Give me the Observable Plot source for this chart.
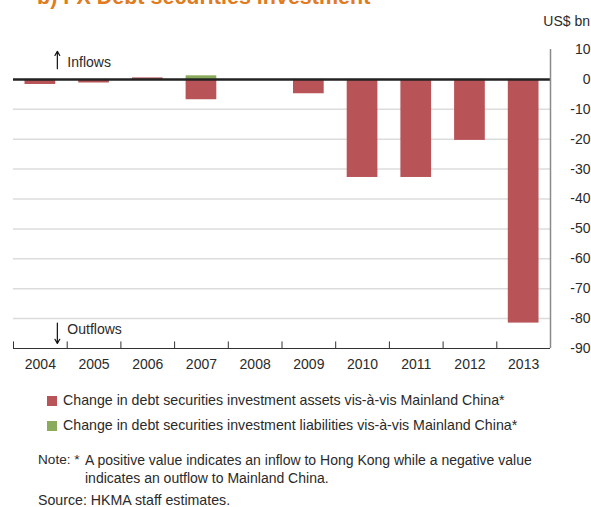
<!DOCTYPE html>
<html>
<head>
<meta charset="utf-8">
<script src="https://cdn.jsdelivr.net/npm/d3@7"></script>
<script src="https://cdn.jsdelivr.net/npm/@observablehq/plot@0.6"></script>
<style>
  body { margin: 0; background: #fff; font-family: "Liberation Sans", Arial, sans-serif; color: #2a2a2a; }
  #wrap { position: relative; width: 591px; height: 507px; overflow: hidden; }
  #title { position: absolute; left: 37px; top: -14px; font-size: 21.5px; line-height: 22px; font-weight: bold; color: #e07b20; white-space: nowrap; }
  #unit { position: absolute; right: 1px; top: 13px; font-size: 14px; }
  #chart { position: absolute; left: 0; top: 0; }
  .leg { position: absolute; left: 47px; font-size: 14.2px; line-height: 16px; white-space: nowrap; }
  .sw { display: inline-block; width: 10px; height: 10px; margin-right: 6px; vertical-align: -1px; }
  .txt { position: absolute; font-size: 14.2px; line-height: 18px; white-space: nowrap; }
</style>
</head>
<body>
<div id="wrap">
  <div id="title">b) FX Debt securities investment</div>
  <div id="unit">US$ bn</div>
  <div id="chart"></div>
  <div id="legend"></div>
  <div class="txt" style="left:38px; top:451px; font-size:13.6px;">Note: *</div>
  <div class="txt" style="left:85px; top:451px; font-size:14px;">A positive value indicates an inflow to Hong Kong while a negative value<br>indicates an outflow to Mainland China.</div>
  <div class="txt" style="left:38px; top:491px;">Source: HKMA staff estimates.</div>
</div>
<script>
const years = ["2004","2005","2006","2007","2008","2009","2010","2011","2012","2013"];
const assets = [-1.7, -1.2, 0.5, -6.8, 0, -4.8, -32.8, -32.8, -20.4, -81.5];
const liabilities = [0, 0, 0, 1.2, 0, 0, 0, 0, 0, 0];
const yTicks = [10, 0, -10, -20, -30, -40, -50, -60, -70, -80, -90];
const gridTicks = [-10, -20, -30, -40, -50, -60, -70, -80];
const seriesNames = [
  "Change in debt securities investment assets vis-à-vis Mainland China*",
  "Change in debt securities investment liabilities vis-à-vis Mainland China*"
];
const colors = ["#b85357", "#8aab5c"];

const data = [];
years.forEach((y, i) => {
  data.push({year: y, value: assets[i], series: seriesNames[0]});
  data.push({year: y, value: liabilities[i], series: seriesNames[1]});
});

const W = 591, H = 380, mL = 13, mR = 41, mT = 49, mB = 32;
const step = (W - mL - mR) / years.length;

const plot = Plot.plot({
  width: W, height: H,
  marginLeft: mL, marginRight: mR, marginTop: mT, marginBottom: mB,
  style: {fontFamily: "Liberation Sans, Arial, sans-serif", fontSize: "14px", color: "#2a2a2a", background: "transparent"},
  x: {domain: years, padding: 0, round: false, axis: null},
  y: {domain: [-90, 10], axis: null},
  color: {domain: seriesNames, range: colors},
  marks: [
    Plot.ruleY(gridTicks, {stroke: "#dcdcdc", strokeWidth: 1.5}),
    Plot.barY(data, {x: "year", y: "value", fill: "series", insetLeft: 11.5, insetRight: 11.5}),
    Plot.ruleY([0], {stroke: "#222", strokeWidth: 2.5}),
    Plot.ruleY([-90], {stroke: "#333", strokeWidth: 1}),
    Plot.ruleX(years, {x: d => d, y1: -90, y2: -87.8, dx: -step / 2, stroke: "#333", strokeWidth: 1}),
    Plot.ruleX([years[years.length - 1]], {x: d => d, y1: 10, y2: -90, dx: step / 2, stroke: "#8a8a8a", strokeWidth: 1.5}),
    Plot.text(yTicks, {y: d => d, text: d => String(d), frameAnchor: "right", dx: 40, textAnchor: "end", fontSize: 14, fill: "#2a2a2a"}),
    Plot.text(years, {x: d => d, text: d => d, y: -90, dy: 16, fontSize: 14, fill: "#2a2a2a"}),
    Plot.arrow([{x: "2004", y1: 3.6, y2: 9.4}], {x1: "x", x2: "x", y1: "y1", y2: "y2", dx: 17, stroke: "#111", strokeWidth: 1.2, headLength: 6}),
    Plot.arrow([{x: "2004", y1: -81.5, y2: -88.3}], {x1: "x", x2: "x", y1: "y1", y2: "y2", dx: 17, stroke: "#111", strokeWidth: 1.2, headLength: 6}),
    Plot.text([{x: "2004", y: 5.6, t: "Inflows"}], {x: "x", y: "y", text: "t", dx: 27, textAnchor: "start", fontSize: 14, fill: "#2a2a2a"}),
    Plot.text([{x: "2004", y: -83.7, t: "Outflows"}], {x: "x", y: "y", text: "t", dx: 27, textAnchor: "start", fontSize: 14, fill: "#2a2a2a"})
  ]
});
document.getElementById("chart").appendChild(plot);

const leg = document.getElementById("legend");
seriesNames.forEach((name, i) => {
  const row = document.createElement("div");
  row.className = "leg";
  row.style.top = (392 + i * 25) + "px";
  row.innerHTML = `<span class="sw" style="background:${colors[i]}"></span>${name}`;
  leg.appendChild(row);
});
</script>
</body>
</html>
